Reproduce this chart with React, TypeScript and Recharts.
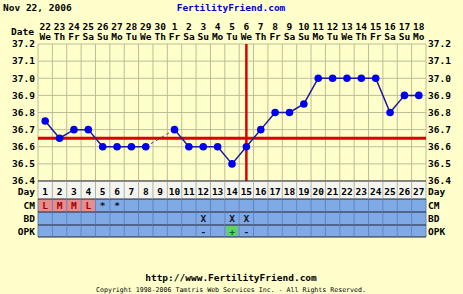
import React from 'react';
import { LineChart, Line, XAxis, YAxis, CartesianGrid, ReferenceLine } from 'recharts';

const days = [1, 2, 3, 4, 5, 6, 7, 8, 9, 10, 11, 12, 13, 14, 15, 16, 17, 18, 19, 20, 21, 22, 23, 24, 25, 26, 27];
const dateLabels = ['22', '23', '24', '25', '26', '27', '28', '29', '30', '1', '2', '3', '4', '5', '6', '7', '8', '9', '10', '11', '12', '13', '14', '15', '16', '17', '18'];
const weekdayLabels = ['We', 'Th', 'Fr', 'Sa', 'Su', 'Mo', 'Tu', 'We', 'Th', 'Fr', 'Sa', 'Su', 'Mo', 'Tu', 'We', 'Th', 'Fr', 'Sa', 'Su', 'Mo', 'Tu', 'We', 'Th', 'Fr', 'Sa', 'Su', 'Mo'];
const temps = [36.75, 36.65, 36.7, 36.7, 36.6, 36.6, 36.6, 36.6, null, 36.7, 36.6, 36.6, 36.6, 36.5, 36.6, 36.7, 36.8, 36.8, 36.85, 37.0, 37.0, 37.0, 37.0, 37.0, 36.8, 36.9, 36.9];
// dashed bridge over the missing reading on day 9
const gapTemps = [null, null, null, null, null, null, null, 36.6, null, 36.7, null, null, null, null, null, null, null, null, null, null, null, null, null, null, null, null, null];
const cmMarks = ['L', 'M', 'M', 'L', '*', '*', '', '', '', '', '', '', '', '', '', '', '', '', '', '', '', '', '', '', '', '', ''];
const bdMarks = ['', '', '', '', '', '', '', '', '', '', '', 'X', '', 'X', 'X', '', '', '', '', '', '', '', '', '', '', '', ''];
const opkMarks = ['', '', '', '', '', '', '', '', '', '', '', '-', '', '+', '-', '', '', '', '', '', '', '', '', '', '', '', ''];
const tempTicks = [36.4, 36.5, 36.6, 36.7, 36.8, 36.9, 37.0, 37.1, 37.2];
const coverline = 36.65;
const ovulationDay = 15;

const data = days.map((day, i) => ({ day, temp: temps[i], gap: gapTemps[i] }));

const CHART_W = 463;
const CHART_H = 238;
const LEFT_W = 38;
const RIGHT_W = 37;
const colW = (CHART_W - LEFT_W - RIGHT_W) / days.length;

const BG = '#FFFFCC';
const GRID = '#bcbc9a';
const BLUE_ROW = '#80aae6';

const font = {
  fontFamily: "'DejaVu Sans Mono', monospace",
  fontWeight: 'bold',
  fontSize: 9.5,
} as const;

function TopTick(props: any) {
  const { x, y, payload } = props;
  const i = payload.value - 1;
  return (
    <g>
      {i === 0 && (
        <text x={x - colW / 2 - 4} y={y - 9} textAnchor="end" fill="#000" style={font}>
          Date
        </text>
      )}
      <text x={x} y={y - 14} textAnchor="middle" fill="#000" style={font}>
        {dateLabels[i]}
      </text>
      <text x={x} y={y - 4.5} textAnchor="middle" fill="#000" style={font}>
        {weekdayLabels[i]}
      </text>
    </g>
  );
}

const rowTops = [0, 18, 31, 44];
const rowHeights = [18, 13, 13, 12];
const rowNames = ['Day', 'CM', 'BD', 'OPK'];

function TableTick(props: any) {
  const { x, y, payload } = props;
  const i = payload.value - 1;
  const left = x - colW / 2;
  const cm = cmMarks[i];
  const opk = opkMarks[i];
  const fills = [
    '#f5f5f0',
    cm === 'L' || cm === 'M' ? '#e88c8c' : BLUE_ROW,
    BLUE_ROW,
    BLUE_ROW,
  ];
  const texts = [String(days[i]), cm, bdMarks[i], opk];
  const colors = ['#000', cm === 'L' || cm === 'M' ? '#a00000' : '#112', '#112', opk === '+' ? '#063' : '#112'];
  return (
    <g>
      {rowNames.map((name, r) => (
        <g key={name}>
          <rect x={left} y={y + rowTops[r]} width={colW} height={rowHeights[r]} fill={fills[r]} />
          {r === 3 && opk === '+' && (
            <rect x={left + 1.5} y={y + rowTops[r] + 1} width={colW - 3} height={rowHeights[r] - 2} fill="#5fd35f" />
          )}
          <line
            x1={left}
            x2={left}
            y1={y + rowTops[r]}
            y2={y + rowTops[r] + rowHeights[r]}
            stroke={r === 0 ? '#b0b0a8' : '#5f82c0'}
            strokeWidth={1}
          />
          {i === days.length - 1 && (
            <line
              x1={left + colW}
              x2={left + colW}
              y1={y + rowTops[r]}
              y2={y + rowTops[r] + rowHeights[r]}
              stroke={r === 0 ? '#b0b0a8' : '#5f82c0'}
            />
          )}
          <line x1={left} x2={left + colW} y1={y + rowTops[r]} y2={y + rowTops[r]} stroke="#223" strokeWidth={1} />
          {texts[r] && (
            <text
              x={x}
              y={y + rowTops[r] + (r === 0 ? 13.5 : 9.5)}
              textAnchor="middle"
              fill={colors[r]}
              style={font}
            >
              {texts[r]}
            </text>
          )}
          {i === 0 && (
            <text x={left - 3} y={y + rowTops[r] + (r === 0 ? 13.5 : 9.5)} textAnchor="end" fill="#000" style={font}>
              {name}
            </text>
          )}
          {i === days.length - 1 && (
            <text x={left + colW + 2} y={y + rowTops[r] + (r === 0 ? 13.5 : 9.5)} textAnchor="start" fill="#000" style={font}>
              {name}
            </text>
          )}
        </g>
      ))}
      <line x1={left} x2={left + colW} y1={y + 56} y2={y + 56} stroke="#223" strokeWidth={1} />
    </g>
  );
}

export default function App() {
  return (
    <div style={{ width: CHART_W, height: 294, background: BG, position: 'relative', overflow: 'hidden' }}>
      <style>{'body{margin:0}'}</style>
      <svg width={CHART_W} height={294} style={{ position: 'absolute', left: 0, top: 0 }}>
        <text x={3} y={11} fill="#000" style={font}>
          Nov 22, 2006
        </text>
        <text x={231} y={11} textAnchor="middle" fill="#0000cc" style={font}>
          FertilityFriend.com
        </text>
        <text x={231} y={281} textAnchor="middle" fill="#000" style={font}>
          http://www.FertilityFriend.com
        </text>
        <text x={231} y={292} textAnchor="middle" fill="#000" style={{ ...font, fontSize: 6.6, fontWeight: 'normal' }}>
          Copyright 1998-2006 Tamtris Web Services Inc. - All Rights Reserved.
        </text>
      </svg>
      <div style={{ position: 'absolute', left: 0, top: 0 }}>
        <LineChart width={CHART_W} height={CHART_H} data={data} margin={{ top: 18, right: 0, bottom: 0, left: 0 }}>
          <CartesianGrid
            xAxisId="top"
            yAxisId="left"
            stroke={GRID}
            verticalCoordinatesGenerator={({ offset }: any) =>
              [0, ...days].map((d) => (offset?.left ?? LEFT_W) + (d * (offset?.width ?? colW * days.length)) / days.length)
            }
          />
          <XAxis
            xAxisId="top"
            orientation="top"
            dataKey="day"
            type="number"
            domain={[0.5, 27.5]}
            ticks={days}
            interval={0}
            height={26}
            axisLine={false}
            tickLine={false}
            tickSize={0}
            tickMargin={0}
            tick={<TopTick />}
          />
          <XAxis
            xAxisId="bottom"
            orientation="bottom"
            dataKey="day"
            type="number"
            domain={[0.5, 27.5]}
            ticks={days}
            interval={0}
            height={57}
            axisLine={false}
            tickLine={false}
            tickSize={0}
            tickMargin={0}
            tick={<TableTick />}
          />
          <YAxis
            yAxisId="left"
            type="number"
            domain={[36.4, 37.2]}
            ticks={tempTicks}
            interval={0}
            width={LEFT_W}
            axisLine={false}
            tickLine={false}
            tickSize={0}
            tickMargin={3}
            tickFormatter={(v: number) => v.toFixed(1)}
            tick={{ ...font, fill: '#000' }}
          />
          <YAxis
            yAxisId="right"
            orientation="right"
            type="number"
            domain={[36.4, 37.2]}
            ticks={tempTicks}
            interval={0}
            width={RIGHT_W}
            axisLine={false}
            tickLine={false}
            tickSize={0}
            tickMargin={2}
            tickFormatter={(v: number) => v.toFixed(1)}
            tick={{ ...font, fill: '#000' }}
          />
          <ReferenceLine xAxisId="top" yAxisId="left" y={coverline} stroke="#dd0000" strokeWidth={3} />
          <ReferenceLine xAxisId="top" yAxisId="left" x={ovulationDay} stroke="#dd0000" strokeWidth={2.5} />
          <Line
            xAxisId="bottom"
            yAxisId="right"
            dataKey="gap"
            connectNulls
            stroke="#444466"
            strokeWidth={1}
            strokeDasharray="3 3"
            dot={false}
            isAnimationActive={false}
          />
          <Line
            xAxisId="top"
            yAxisId="left"
            dataKey="temp"
            connectNulls={false}
            stroke="#1a1a9a"
            strokeWidth={1.5}
            dot={{ r: 3.8, fill: '#0000ee', stroke: '#0000ee', strokeWidth: 0 }}
            isAnimationActive={false}
          />
        </LineChart>
      </div>
    </div>
  );
}
